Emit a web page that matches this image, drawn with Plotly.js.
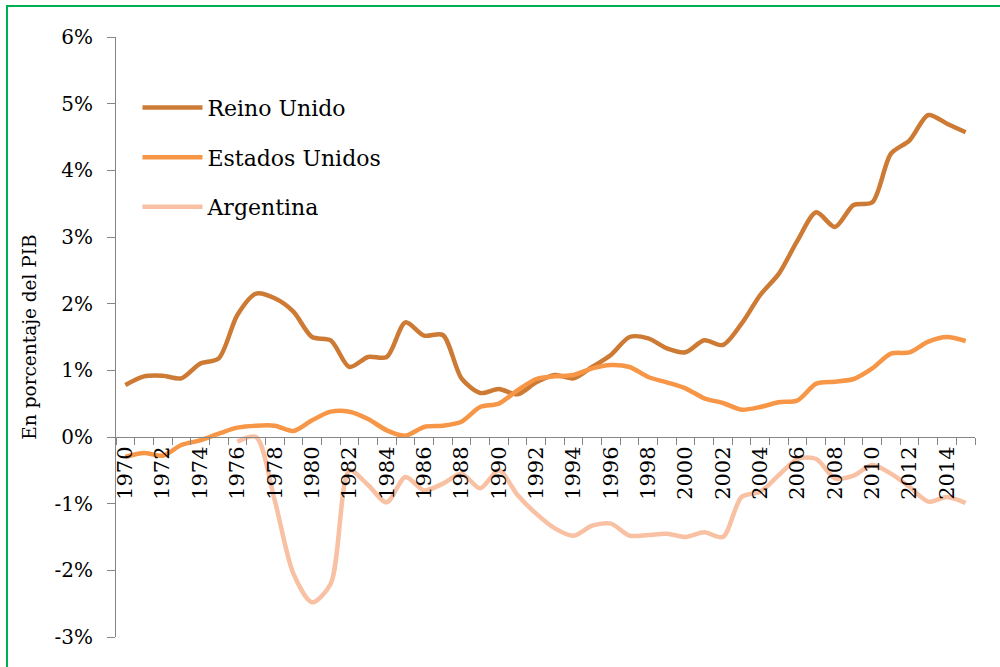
<!DOCTYPE html>
<html>
<head>
<meta charset="utf-8">
<script src="https://cdn.plot.ly/plotly-3.0.1.min.js"></script>
<style>
html,body{margin:0;padding:0;width:1000px;height:667px;overflow:hidden;background:#fff;}
#chart{position:absolute;left:0;top:0;width:1000px;height:667px;}
#frame{position:absolute;left:6px;top:5px;width:1000px;height:660px;border:2px solid #00B050;pointer-events:none;}
</style>
</head>
<body>
<div id="chart"></div>
<div id="frame"></div>
<script>
const years = ['1970','1971','1972','1973','1974','1975','1976','1977','1978','1979',
  '1980','1981','1982','1983','1984','1985','1986','1987','1988','1989',
  '1990','1991','1992','1993','1994','1995','1996','1997','1998','1999',
  '2000','2001','2002','2003','2004','2005','2006','2007','2008','2009',
  '2010','2011','2012','2013','2014','2015'];
const tickLabels = years.map((y, i) => (i % 2 === 0 ? y : ''));

const reinoUnido = [0.78,0.91,0.92,0.88,1.10,1.18,1.83,2.15,2.08,1.88,
  1.50,1.45,1.05,1.20,1.20,1.72,1.52,1.53,0.88,0.66,
  0.72,0.64,0.82,0.93,0.88,1.05,1.23,1.50,1.48,1.33,
  1.27,1.45,1.38,1.70,2.13,2.45,2.95,3.37,3.15,3.48,
  3.52,4.25,4.45,4.83,4.70,4.57];
const estadosUnidos = [-0.30,-0.24,-0.28,-0.12,-0.05,0.05,0.14,0.17,0.17,0.09,
  0.25,0.38,0.38,0.27,0.10,0.02,0.15,0.17,0.23,0.45,
  0.50,0.70,0.87,0.91,0.93,1.03,1.08,1.05,0.90,0.82,
  0.73,0.58,0.51,0.41,0.45,0.52,0.55,0.80,0.83,0.87,
  1.03,1.25,1.27,1.43,1.50,1.44];
const argentina = [null,null,null,null,null,null,-0.07,0.00,-0.95,-2.05,
  -2.48,-2.20,-0.50,-0.72,-0.98,-0.60,-0.80,-0.70,-0.55,-0.77,
  -0.50,-0.87,-1.15,-1.37,-1.48,-1.33,-1.30,-1.48,-1.47,-1.45,
  -1.50,-1.43,-1.50,-0.90,-0.82,-0.57,-0.33,-0.33,-0.62,-0.58,
  -0.42,-0.55,-0.75,-0.97,-0.90,-0.99];

const yTickVals = [-3,-2,-1,0,1,2,3,4,5,6];
const yTickText = ['-3%','-2%','-1%','0%','1%','2%','3%','4%','5%','6%'];

const serif = 'DejaVu Serif';
const grey = '#868686';

function series(name, vals, color) {
  return {
    type: 'scatter', mode: 'lines', name: name, x: years, y: vals,
    legendgroup: name,
    line: {color: color, width: 4.5, shape: 'spline', smoothing: 0.8},
    connectgaps: false, hoverinfo: 'x+y'
  };
}

const data = [
  series('Reino Unido', reinoUnido, '#CD7A35'),
  series('Estados Unidos', estadosUnidos, '#F79646'),
  series('Argentina', argentina, '#F8C1A3')
];

const layout = {
  width: 1000, height: 667,
  margin: {l: 116, r: 25, t: 37, b: 30},
  paper_bgcolor: '#fff', plot_bgcolor: '#fff',
  font: {family: serif, color: '#000'},
  showlegend: true,
  legend: {
    x: 0.025, y: 0.917, xanchor: 'left', yanchor: 'top',
    font: {family: serif, size: 22, color: '#000'},
    bgcolor: 'rgba(0,0,0,0)', itemwidth: 60, tracegroupgap: 18,
    traceorder: 'grouped'
  },
  xaxis: {
    type: 'category',
    tickmode: 'array', tickvals: years, ticktext: tickLabels,
    tickson: 'boundaries', ticks: 'outside', ticklen: 7, tickcolor: grey, tickwidth: 1,
    tickangle: -90,
    tickfont: {family: serif, size: 21, color: '#000'},
    showline: true, linecolor: grey, linewidth: 1,
    showgrid: false, zeroline: false,
    anchor: 'free', position: 1/3,
    range: [-0.5, 45.5]
  },
  yaxis: {
    range: [-3, 6],
    tickmode: 'array', tickvals: yTickVals, ticktext: yTickText,
    ticks: 'outside', ticklen: 8, tickcolor: grey, tickwidth: 1,
    tickfont: {family: serif, size: 20, color: '#000'},
    ticklabelstandoff: 10,
    showline: true, linecolor: grey, linewidth: 1,
    showgrid: false, zeroline: false,
    title: {text: 'En porcentaje del PIB', font: {family: serif, size: 18.5, color: '#000'}, standoff: 13},
    automargin: false
  }
};

Plotly.newPlot('chart', data, layout, {staticPlot: true, displayModeBar: false});
</script>
</body>
</html>
